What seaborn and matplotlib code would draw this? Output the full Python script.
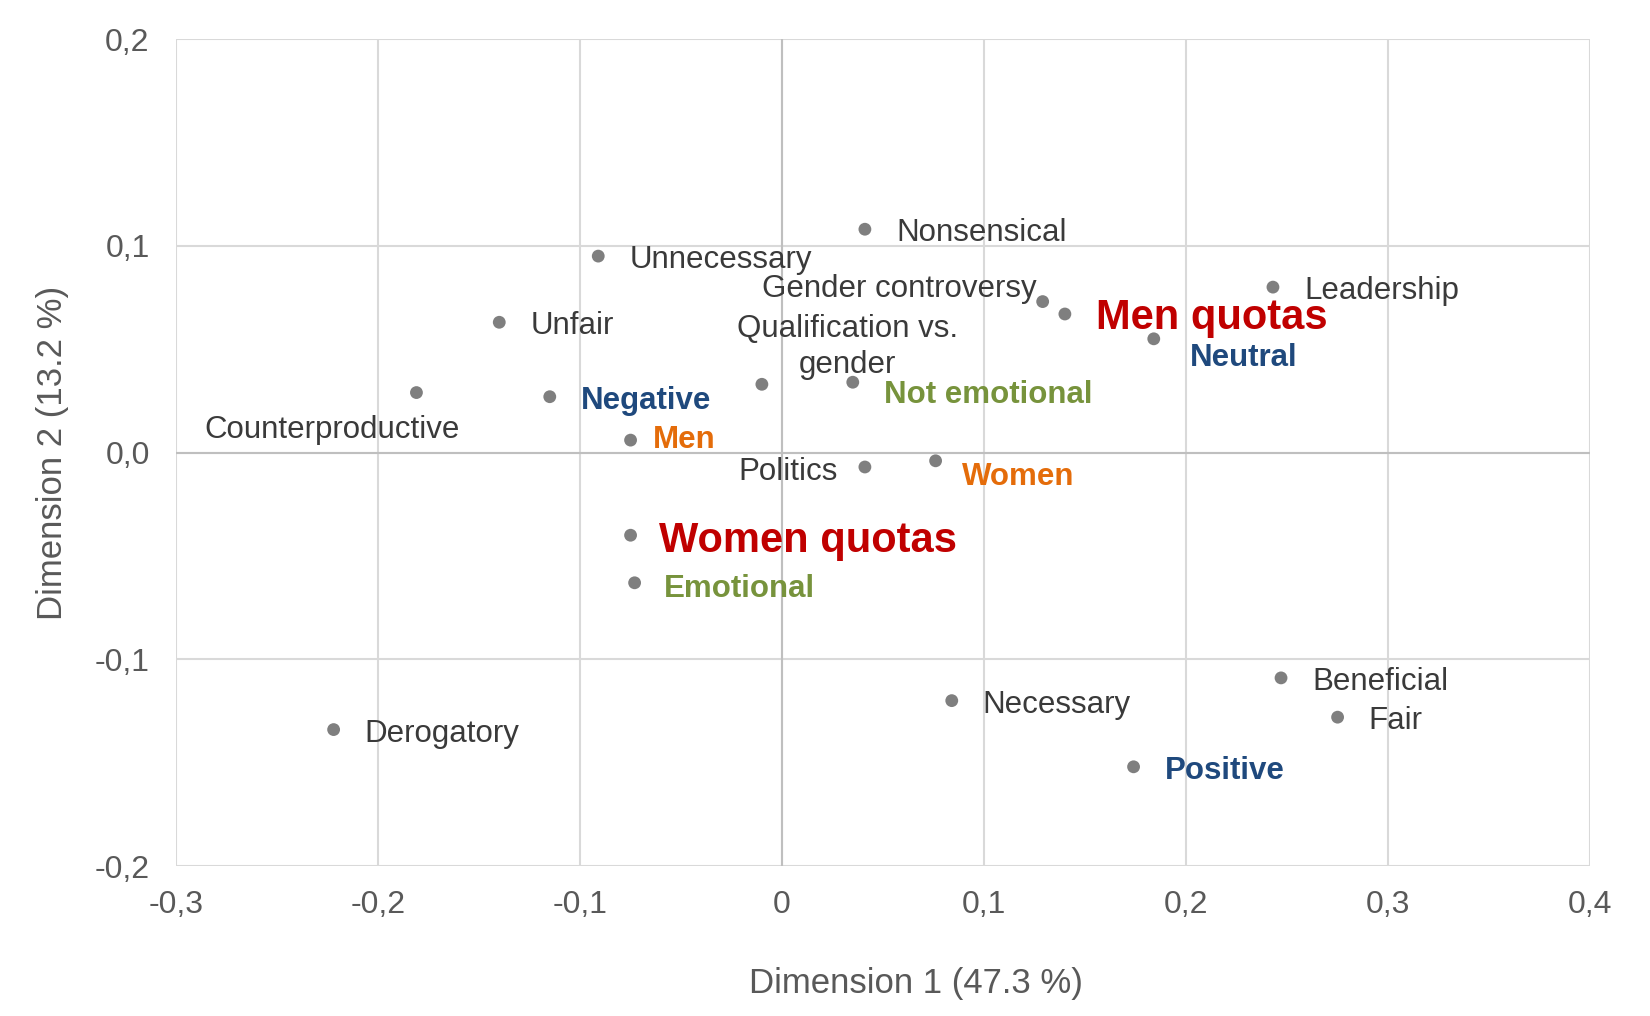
import matplotlib
matplotlib.use("Agg")
import matplotlib.pyplot as plt
import seaborn as sns
import pandas as pd

# ---- data ----
terms = ["Nonsensical", "Unnecessary", "Gender controversy", "Men quotas", "Leadership",
         "Neutral", "Unfair", "Counterproductive", "Negative", "Qualification vs.\ngender",
         "Not emotional", "Men", "Politics", "Women", "Women quotas", "Emotional",
         "Beneficial", "Necessary", "Fair", "Derogatory", "Positive"]
dim1 = [0.041, -0.091, 0.129, 0.140, 0.243,
        0.184, -0.140, -0.181, -0.115, -0.010,
        0.035, -0.075, 0.041, 0.076, -0.075, -0.073,
        0.247, 0.084, 0.275, -0.222, 0.174]
dim2 = [0.108, 0.095, 0.073, 0.067, 0.080,
        0.055, 0.063, 0.029, 0.027, 0.033,
        0.034, 0.006, -0.007, -0.004, -0.040, -0.063,
        -0.109, -0.120, -0.128, -0.134, -0.152]
groups = ["word", "word", "word", "quota", "word",
          "tone", "word", "word", "tone", "word",
          "emotion", "gender", "word", "gender", "quota", "emotion",
          "word", "word", "word", "word", "tone"]
xticks = [-0.3, -0.2, -0.1, 0.0, 0.1, 0.2, 0.3, 0.4]
xtick_labels = ["-0,3", "-0,2", "-0,1", "0", "0,1", "0,2", "0,3", "0,4"]
yticks = [-0.2, -0.1, 0.0, 0.1, 0.2]
ytick_labels = ["-0,2", "-0,1", "0,0", "0,1", "0,2"]
xlabel = "Dimension 1 (47.3 %)"
ylabel = "Dimension 2 (13.2 %)"

df = pd.DataFrame({"term": terms, "dim1": dim1, "dim2": dim2, "group": groups})

# ---- styles ----
group_style = {
    "word":    dict(color="#3A3A3A", size=22.5, weight="normal"),
    "quota":   dict(color="#C00000", size=30, weight="bold"),
    "tone":    dict(color="#1F497D", size=22.5, weight="bold"),
    "gender":  dict(color="#E46C0A", size=22.5, weight="bold"),
    "emotion": dict(color="#77933C", size=22.5, weight="bold"),
}
# label offsets in pixels (dx, dy, ha)
default_off = (31, 0, "left")
label_off = {
    "Gender controversy": (-6, 17, "right"),
    "Neutral": (36, -15, "left"),
    "Counterproductive": (-84, -33, "center"),
    "Qualification vs.\ngender": (86, 41, "center"),
    "Not emotional": (31, -9, "left"),
    "Men": (22, 4, "left"),
    "Politics": (-27, -1, "right"),
    "Women": (26, -12, "left"),
    "Women quotas": (28, -2, "left"),
    "Emotional": (29, -2, "left"),
}
shift_y = -4

sns.set_theme(style="white")
plt.rcParams["font.family"] = ["Liberation Sans", "DejaVu Sans"]

fig = plt.figure(figsize=(16.5, 10.16), dpi=100)
ax = fig.add_axes([0.1067, 0.1476, 0.8570, 0.8140])

sns.scatterplot(data=df, x="dim1", y="dim2", ax=ax, color="#7F7F7F",
                s=85, edgecolor="none", legend=False, zorder=3)

for t, x, y, g in zip(df["term"], df["dim1"], df["dim2"], df["group"]):
    dx, dy, ha = label_off.get(t, default_off)
    st = group_style[g]
    ax.annotate(t, (x, y), xytext=(dx, dy + shift_y), textcoords="offset pixels",
                ha=ha, va="center", multialignment="center", linespacing=1.25,
                color=st["color"], fontsize=st["size"], fontweight=st["weight"],
                zorder=4)

ax.set_xlim(-0.3, 0.4)
ax.set_ylim(-0.2, 0.2)
ax.set_xticks(xticks)
ax.set_xticklabels(xtick_labels)
ax.set_yticks(yticks)
ax.set_yticklabels(ytick_labels)
ax.tick_params(axis="both", length=0, labelsize=23, labelcolor="#595959")
ax.tick_params(axis="x", pad=17)
ax.tick_params(axis="y", pad=19)

ax.grid(True, color="#D9D9D9", linewidth=1.5, zorder=0)
ax.set_axisbelow(True)
ax.axhline(0, color="#BFBFBF", linewidth=1.5, zorder=1)
ax.axvline(0, color="#BFBFBF", linewidth=1.5, zorder=1)
for sp in ax.spines.values():
    sp.set_visible(False)

ax.set_xlabel(xlabel, fontsize=25, color="#595959")
ax.set_ylabel(ylabel, fontsize=25, color="#595959")
ax.xaxis.set_label_coords(0.523, -0.122)
ax.yaxis.set_label_coords(-0.076, 0.5)

fig.savefig("out.png", dpi=100, facecolor="white")
